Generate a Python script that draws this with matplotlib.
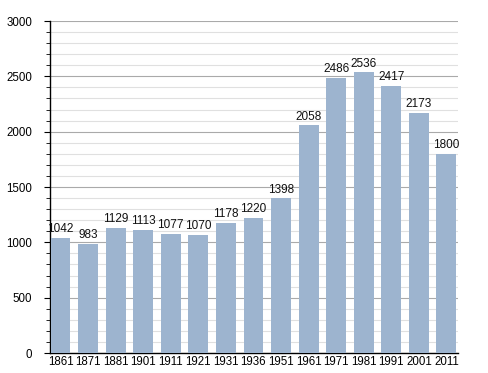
import matplotlib
matplotlib.use("Agg")
import matplotlib.pyplot as plt
from matplotlib.ticker import MultipleLocator

years = ["1861", "1871", "1881", "1901", "1911", "1921", "1931", "1936", "1951",
         "1961", "1971", "1981", "1991", "2001", "2011"]
population = [1042, 983, 1129, 1113, 1077, 1070, 1178, 1220, 1398,
              2058, 2486, 2536, 2417, 2173, 1800]

plt.rcParams['font.family'] = ['Liberation Sans', 'DejaVu Sans']

fig = plt.figure(figsize=(4.88, 3.73), dpi=100)
ax = fig.add_axes([0.1025, 0.0536, 0.836, 0.890])

x = list(range(len(years)))
ax.bar(x, population, width=0.72, color="#9db4cf", zorder=3)
for xi, v in zip(x, population):
    ax.text(xi, v + 25, str(v), ha="center", va="bottom", fontsize=8.5, color="#111111", zorder=4)

ax.set_xlim(-0.38, 14.42)
ax.set_ylim(0, 3000)
ax.set_xticks(x)
ax.set_xticklabels(years, fontsize=8.3)
ax.yaxis.set_major_locator(MultipleLocator(500))
ax.yaxis.set_minor_locator(MultipleLocator(100))
ax.tick_params(axis="y", which="major", length=4, labelsize=8.3, pad=9)
ax.tick_params(axis="y", which="minor", length=3)
ax.tick_params(axis="x", length=0, pad=2)
ax.grid(axis="y", which="major", color="#aaaaaa", linewidth=0.8, zorder=0)
ax.grid(axis="y", which="minor", color="#e0e0e0", linewidth=0.8, zorder=0)
for s in ["top", "right"]:
    ax.spines[s].set_visible(False)
ax.spines["left"].set_linewidth(1.0)
ax.spines["bottom"].set_linewidth(1.0)

fig.savefig("out.png", dpi=100)
